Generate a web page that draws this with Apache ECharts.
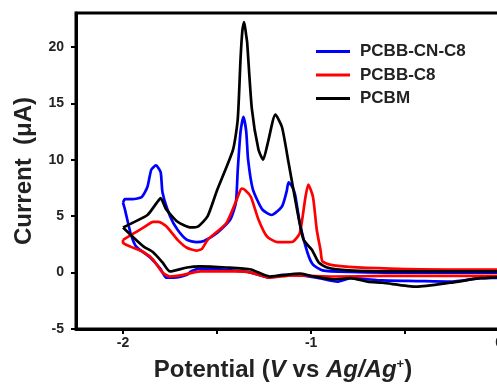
<!DOCTYPE html>
<html>
<head>
<meta charset="utf-8">
<script src="https://cdn.jsdelivr.net/npm/echarts@6/dist/echarts.min.js"></script>
<style>
  html, body { margin: 0; padding: 0; background: #fff; }
  #chart { width: 497px; height: 385px; }
</style>
</head>
<body>
<div id="chart"></div>
<script>
// CV loops: [potential (V vs Ag/Ag+), current (uA)], upper branch then return branch
const seriesNames = ['PCBB-CN-C8', 'PCBB-C8', 'PCBM']
const seriesColors = ['#0000ff', '#ff0000', '#000000']

const pcbbCnC8 = [
  [-2.0, 6.2], [-1.99, 6.5], [-1.95, 6.5], [-1.9, 6.7], [-1.87, 7.6], [-1.85, 9.1],
  [-1.825, 9.5], [-1.8, 8.9], [-1.79, 7.1], [-1.75, 5.0], [-1.71, 3.8], [-1.66, 2.9],
  [-1.61, 2.7], [-1.57, 2.8], [-1.5, 3.5], [-1.43, 4.7], [-1.4, 6.2], [-1.39, 9.1],
  [-1.375, 12.5], [-1.36, 13.8], [-1.345, 12.5], [-1.335, 10.0], [-1.31, 7.4],
  [-1.26, 5.6], [-1.21, 5.1], [-1.155, 5.85], [-1.13, 7.2], [-1.12, 8.0], [-1.1, 7.6],
  [-1.085, 6.9], [-1.06, 4.4], [-1.02, 1.8], [-0.99, 0.7], [-0.94, 0.2], [-0.8, 0.05],
  [-0.6, 0.0], [-0.3, 0.0], [0.05, 0.0],
  [0.05, -0.4], [-0.1, -0.5], [-0.26, -0.8], [-0.44, -0.75], [-0.62, -0.7], [-0.79, -0.5],
  [-0.86, -0.8], [-0.97, -0.45], [-1.06, -0.25], [-1.15, -0.2], [-1.22, -0.45], [-1.32, 0.0],
  [-1.45, 0.25], [-1.59, 0.35], [-1.64, 0.1], [-1.66, -0.2], [-1.73, -0.45], [-1.77, -0.45],
  [-1.8, 0.3], [-1.86, 1.4], [-1.93, 2.3], [-1.96, 3.5], [-1.99, 5.6], [-2.0, 6.2]
]

const pcbbC8 = [
  [-2.0, 2.9], [-1.95, 3.4], [-1.89, 4.0], [-1.84, 4.5], [-1.81, 4.5], [-1.77, 4.1],
  [-1.71, 2.9], [-1.66, 2.2], [-1.61, 1.95], [-1.58, 2.1], [-1.55, 2.9], [-1.45, 4.4],
  [-1.39, 6.7], [-1.37, 7.45], [-1.35, 7.3], [-1.32, 6.7], [-1.28, 4.7], [-1.235, 3.2],
  [-1.18, 2.7], [-1.12, 2.7], [-1.095, 2.75], [-1.06, 3.5], [-1.03, 6.7], [-1.015, 7.8],
  [-0.99, 6.7], [-0.97, 3.8], [-0.95, 2.0], [-0.94, 1.0], [-0.9, 0.7], [-0.8, 0.5],
  [-0.58, 0.35], [-0.28, 0.27], [0.05, 0.27],
  [0.05, -0.3], [-0.3, -0.3], [-0.6, -0.3], [-0.88, -0.35], [-1.0, -0.3], [-1.1, -0.25],
  [-1.22, -0.45], [-1.32, 0.0], [-1.41, 0.1], [-1.59, 0.1], [-1.68, -0.2], [-1.75, -0.35],
  [-1.79, 0.0], [-1.84, 1.15], [-1.89, 1.8], [-1.96, 2.3], [-2.0, 2.65], [-2.0, 2.9]
]

const pcbm = [
  [-2.0, 4.0], [-1.95, 4.4], [-1.87, 5.1], [-1.82, 6.2], [-1.8, 6.6], [-1.77, 5.6],
  [-1.71, 4.5], [-1.64, 4.0], [-1.6, 4.1], [-1.55, 5.0], [-1.5, 7.3], [-1.415, 10.9],
  [-1.39, 13.6], [-1.375, 19.0], [-1.365, 21.5], [-1.356, 22.2], [-1.345, 21.0],
  [-1.34, 20.4], [-1.315, 14.5], [-1.28, 10.9], [-1.255, 10.0], [-1.23, 11.5],
  [-1.19, 14.0], [-1.155, 12.9], [-1.12, 9.75], [-1.075, 5.6], [-1.04, 2.9],
  [-0.995, 2.0], [-0.96, 0.9], [-0.915, 0.45], [-0.8, 0.2], [-0.58, 0.1], [0.05, 0.1],
  [0.05, -0.3], [-0.1, -0.5], [-0.26, -0.9], [-0.44, -1.25], [-0.62, -0.9], [-0.7, -0.8],
  [-0.79, -0.5], [-0.88, -0.6], [-1.0, -0.3], [-1.06, -0.1], [-1.22, -0.35], [-1.32, 0.27],
  [-1.45, 0.45], [-1.59, 0.55], [-1.66, 0.45], [-1.75, 0.1], [-1.79, 0.9], [-1.84, 1.8],
  [-1.89, 2.3], [-1.95, 3.2], [-2.0, 4.0]
]

const xTicks = [-2, -1.5, -1, -0.5, 0]
const xTickLabels = [-2, -1, 0]
const yTicks = [-5, 0, 5, 10, 15, 20]

const font = '"Liberation Sans", Arial, sans-serif'
const chart = echarts.init(document.getElementById('chart'))

const option = {
  animation: false,
  backgroundColor: '#fff',
  grid: {
    left: 76,
    top: 13,
    bottom: 56,
    right: -21,
    outerBoundsMode: 'none',
    show: true,
    borderColor: '#000',
    borderWidth: 3
  },
  legend: {
    left: 311,
    top: 38,
    orient: 'vertical',
    icon: 'rect',
    itemWidth: 34,
    itemHeight: 3,
    itemGap: 6.5,
    data: seriesNames,
    textStyle: {
      fontFamily: font,
      fontWeight: 'bold',
      fontSize: 17,
      lineHeight: 17,
      color: '#222',
      padding: [0, 0, 0, 5]
    }
  },
  xAxis: {
    type: 'value',
    min: -2.25,
    max: 0.1,
    splitLine: { show: false },
    axisLine: { onZero: false, lineStyle: { color: '#000', width: 3 } },
    axisTick: {
      customValues: xTicks,
      length: 5,
      lineStyle: { color: '#000', width: 2 }
    },
    axisLabel: {
      customValues: xTickLabels,
      margin: 7,
      fontFamily: font,
      fontWeight: 'bold',
      fontSize: 14,
      color: '#222'
    },
    name: 'Potential ({i|V} vs {i|Ag/Ag}{sup|+})',
    nameLocation: 'middle',
    nameGap: 29,
    nameTextStyle: {
      fontFamily: font,
      fontWeight: 'bold',
      fontSize: 24,
      color: '#222',
      padding: [0, 28, 0, 0],
      rich: {
        i: { fontFamily: font, fontWeight: 'bold', fontStyle: 'italic', fontSize: 24, color: '#222' },
        sup: { fontFamily: font, fontWeight: 'bold', fontSize: 13, color: '#222', verticalAlign: 'top', padding: [0, 0, 12, 0] }
      }
    }
  },
  yAxis: {
    type: 'value',
    min: -5,
    max: 23,
    splitLine: { show: false },
    axisLine: { onZero: false, lineStyle: { color: '#000', width: 3 } },
    axisTick: {
      customValues: yTicks,
      length: 5,
      lineStyle: { color: '#000', width: 2 }
    },
    axisLabel: {
      customValues: yTicks,
      margin: 12,
      fontFamily: font,
      fontWeight: 'bold',
      fontSize: 14,
      color: '#222'
    },
    name: 'Current  (\u03bcA)',
    nameLocation: 'middle',
    nameGap: 40,
    nameTextStyle: {
      fontFamily: font,
      fontWeight: 'bold',
      fontSize: 24,
      color: '#222'
    }
  },
  series: [pcbbCnC8, pcbbC8, pcbm].map((d, k) => ({
    name: seriesNames[k],
    type: 'line',
    data: d,
    showSymbol: false,
    smooth: 0.2,
    color: seriesColors[k],
    lineStyle: { width: 2.7, color: seriesColors[k] }
  }))
}

chart.setOption(option)
</script>
</body>
</html>
